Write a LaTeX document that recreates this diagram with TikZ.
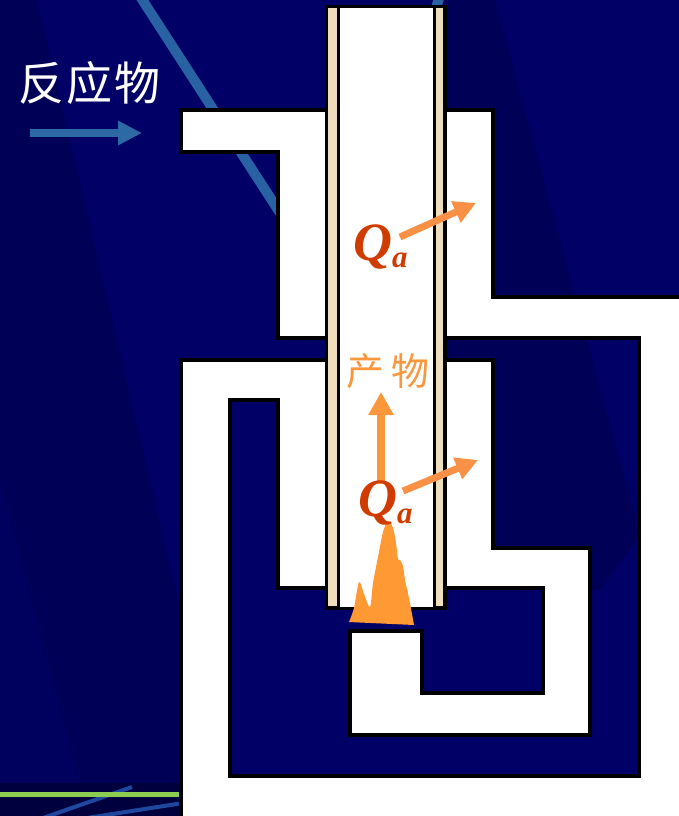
\documentclass[tikz,border=0pt]{standalone}
\usepackage{fontspec}
\setmainfont{Liberation Serif}
\newfontfamily\cjk{Noto Sans CJK SC}
\usetikzlibrary{arrows.meta}

\definecolor{navy}{RGB}{0,0,102}
\definecolor{navydark}{RGB}{0,0,86}
\definecolor{navyband}{RGB}{0,0,62}
\definecolor{streak}{RGB}{40,98,162}
\definecolor{beige}{RGB}{238,222,188}
\definecolor{heat}{RGB}{248,145,70}
\definecolor{flame}{RGB}{255,153,51}
\definecolor{qred}{RGB}{208,60,0}
\definecolor{prodtext}{RGB}{250,150,60}
\definecolor{greenline}{RGB}{140,204,80}
\definecolor{lowline}{RGB}{30,72,158}
\definecolor{feedblue}{RGB}{45,105,165}

\tikzset{
  passage/.style={draw=black, fill=white, line width=4pt, line join=miter, even odd rule},
  tubewall/.style={draw=black, fill=beige, line width=3.5pt, line join=miter},
  tubebore/.style={draw=black, fill=white, line width=3pt, line join=miter},
  heatarrow/.style={draw=heat, line width=7pt, -{Triangle[length=22pt,width=22pt]}},
  riseArrow/.style={draw=prodtext, line width=8pt, -{Triangle[length=23pt,width=24pt]}},
  feedarrow/.style={draw=feedblue, line width=8pt, -{Triangle[length=24pt,width=23pt]}},
  qlabel/.style={anchor=base west, inner sep=0pt, text=qred, font=\bfseries\itshape},
}

\newcommand{\heatQ}{{\fontsize{54}{54}\selectfont Q}\raisebox{-7pt}{\fontsize{31}{31}\selectfont a}}

\begin{document}
\begin{tikzpicture}[x=1pt,y=-1pt]
  \useasboundingbox (0,0) rectangle (679,816);
  \clip (0,0) rectangle (679,816);

  % background with soft diagonal shading
  \fill[navy] (0,0) rectangle (679,816);
  \fill[navydark] (0,0) -- (37,0) -- (181,612) -- (181,783) -- (0,783) -- cycle;
  \fill[navy!50!navydark] (0,480) -- (80,783) -- (0,783) -- cycle;
  \fill[navydark] (445,0) -- (495,0) -- (640,535) -- (600,590) -- (445,590) -- cycle;
  \draw[streak, line width=10pt] (136,-10) -- (304,250);
  \draw[streak, line width=10pt] (440,-5) -- (420,60);

  % lower-left corner decoration
  \fill[navyband] (0,783) rectangle (181,816);
  \draw[lowline, line width=4pt] (43,818) -- (132,787);
  \draw[lowline, line width=4pt] (87,818) -- (183,803);
  \draw[greenline, line width=5pt] (0,794.5) -- (181,794.5);

  % gas passages (white) around the inner block (hole)
  \path[passage]
    (181,110) -- (493,110) -- (493,297) -- (700,297) -- (700,830) -- (181,830)
      -- (181,360) -- (330,360) -- (330,338) -- (278,338) -- (278,152) -- (181,152) -- cycle
    (440,338) -- (639,338) -- (639,776) -- (230,776) -- (230,400) -- (278,400)
      -- (278,588) -- (543,588) -- (543,693) -- (422,693) -- (422,631) -- (350,631)
      -- (350,735) -- (590,735) -- (590,548) -- (493,548) -- (493,360) -- (440,360) -- cycle;

  % reaction tube
  \draw[tubewall] (326.5,6.5) rectangle (445,608);
  \draw[tubebore] (338,6.5) rectangle (434,608);

  % flame
  \fill[flame] plot[smooth, tension=0.5] coordinates {
      (349,622) (354,608) (359,582) (364,594) (370,607) (373,583) (378,557)
      (383,532) (388,521) (393,528) (396,543) (398,559) (400,560) (403,566)
      (405,580) (409,598) (414,625)} -- cycle;

  % named anchor points for the connectors
  \coordinate (feedtail) at (30,133);
  \coordinate (feedhead) at (142,133);
  \coordinate (heatAtail) at (400,237);
  \coordinate (heatAhead) at (476,203);
  \coordinate (heatBtail) at (403,491);
  \coordinate (heatBhead) at (478,460);
  \coordinate (risetail) at (381,484);
  \coordinate (risehead) at (381,392);

  \draw[feedarrow] (feedtail) -- (feedhead);
  \draw[riseArrow] (risetail) -- (risehead);
  \draw[heatarrow] (heatAtail) -- (heatAhead);
  \draw[heatarrow] (heatBtail) -- (heatBhead);

  % labels
  \node[anchor=base west, inner sep=0pt, text=white,
        font=\cjk\fontsize{46}{46}\selectfont] (feed) at (18,100)
        {反\hspace{2pt}应\hspace{2pt}物};
  \node[anchor=base west, inner sep=0pt, text=prodtext,
        font=\cjk\fontsize{38}{38}\selectfont] (product) at (346,385)
        {产\hspace{7pt}物};
  \node[qlabel] (qupper) at (353,260) {\heatQ};
  \node[qlabel] (qlower) at (358,516) {\heatQ};
\end{tikzpicture}
\end{document}
